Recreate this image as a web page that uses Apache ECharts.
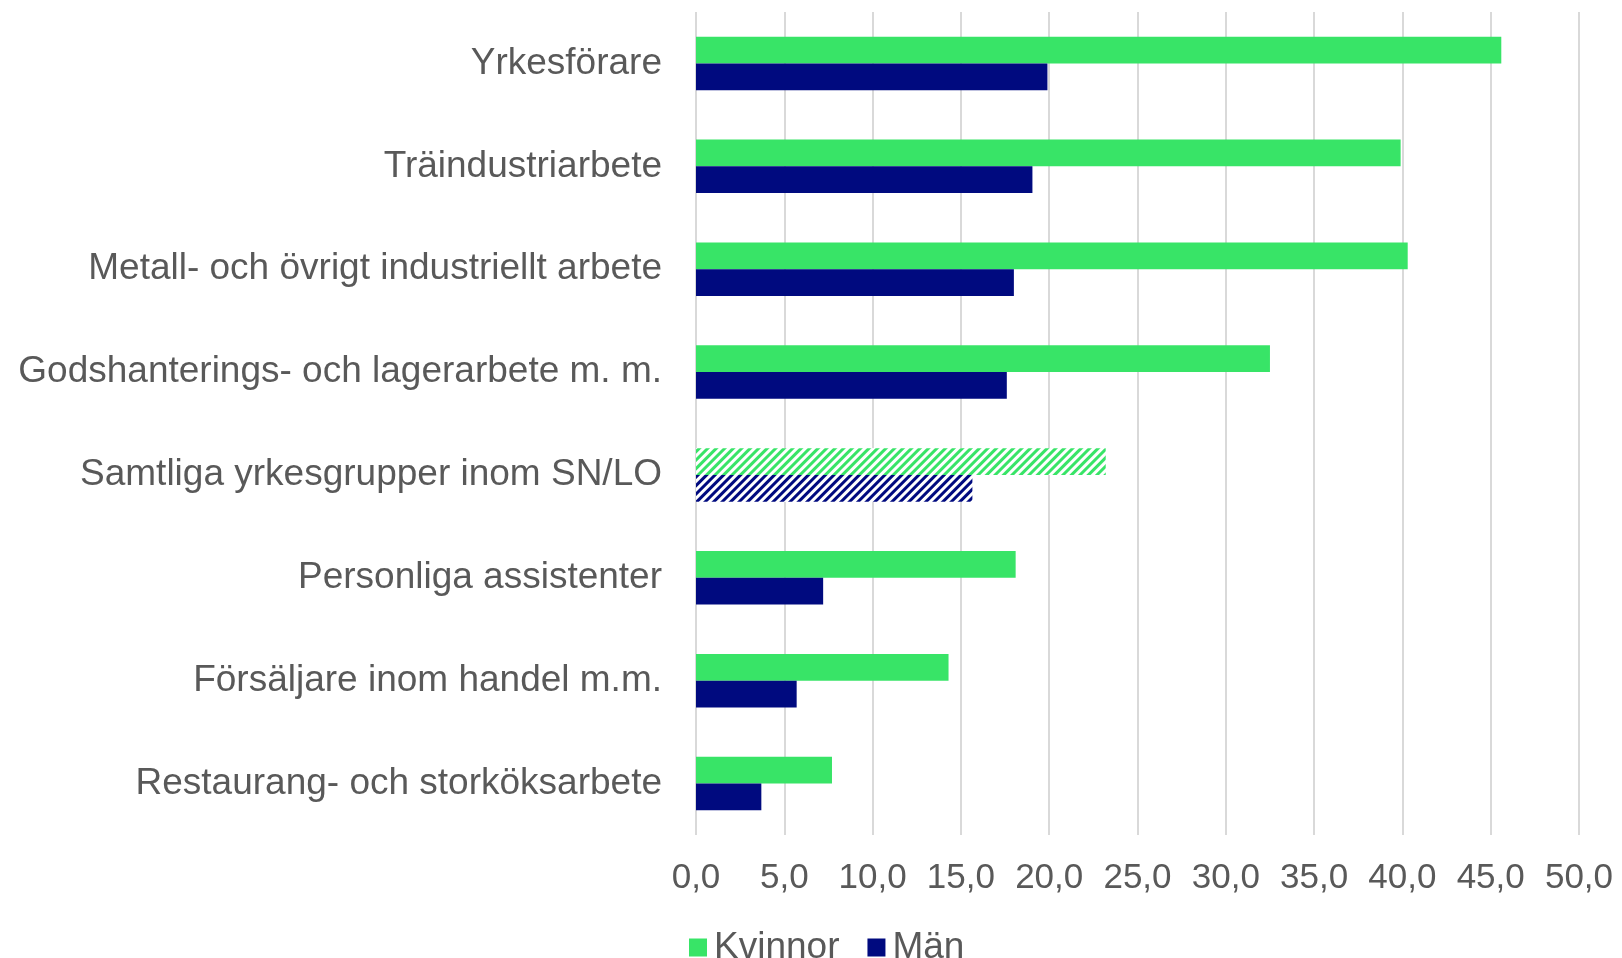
<!DOCTYPE html>
<html>
<head>
<meta charset="utf-8">
<script src="https://cdn.jsdelivr.net/npm/echarts@6/dist/echarts.min.js"></script>
<style>
  html, body { margin: 0; padding: 0; background: #fff; }
  #chart { width: 1622px; height: 958px; }
</style>
</head>
<body>
<div id="chart"></div>
<script>
// kategorier (uppifrån och ner)
const categories = [
  'Yrkesförare',
  'Träindustriarbete',
  'Metall- och övrigt industriellt arbete',
  'Godshanterings- och lagerarbete m. m.',
  'Samtliga yrkesgrupper inom SN/LO',
  'Personliga assistenter',
  'Försäljare inom handel m.m.',
  'Restaurang- och storköksarbete'
]
const kvinnor = [45.6, 39.9, 40.3, 32.5, 23.2, 18.1, 14.3, 7.7]
const man = [19.9, 19.05, 18.0, 17.6, 15.65, 7.2, 5.7, 3.7]
// index för totalraden som ritas randig
const totalIndex = 4

const green = '#38E467'
const navy = '#000A7F'

// randigt mönster för totalraden
const stripes = (c) => ({
  color: c,
  backgroundColor: '#fff',
  symbol: 'rect',
  dashArrayX: [1, 0],
  dashArrayY: [3, 3],
  rotation: -Math.PI / 4
})

const toData = (arr, c) => arr.map((v, i) => i === totalIndex
  ? { value: v, itemStyle: { color: '#fff', decal: stripes(c) } }
  : v)

const chart = echarts.init(document.getElementById('chart'))
chart.setOption({
  animation: false,
  aria: { enabled: true, decal: { show: false } },
  grid: { left: 696, right: 43, top: 12, bottom: 123 },
  legend: {
    data: ['Kvinnor', 'Män'],
    left: 684,
    top: 924,
    icon: 'rect',
    itemWidth: 18,
    itemHeight: 18,
    itemGap: 28,
    textStyle: { fontFamily: 'Liberation Sans', fontSize: 37, color: '#595959', padding: [0, 0, 0, 2] }
  },
  xAxis: {
    type: 'value',
    min: 0,
    max: 50,
    interval: 5,
    axisLine: { show: false },
    axisTick: { show: false },
    splitLine: { lineStyle: { color: '#d9d9d9', width: 2 } },
    axisLabel: {
      margin: 26,
      fontFamily: 'Liberation Sans',
      fontSize: 35,
      color: '#595959',
      formatter: (v) => v.toFixed(1).replace('.', ',')
    }
  },
  yAxis: {
    type: 'category',
    data: categories,
    inverse: true,
    axisLine: { show: false },
    axisTick: { show: false },
    axisLabel: {
      margin: 34,
      fontFamily: 'Liberation Sans',
      fontSize: 37,
      color: '#595959'
    }
  },
  series: [
    {
      name: 'Kvinnor',
      type: 'bar',
      data: toData(kvinnor, green),
      itemStyle: { color: green },
      barGap: '0%',
      barCategoryGap: '48%'
    },
    {
      name: 'Män',
      type: 'bar',
      data: toData(man, navy),
      itemStyle: { color: navy }
    }
  ]
})
</script>
</body>
</html>
